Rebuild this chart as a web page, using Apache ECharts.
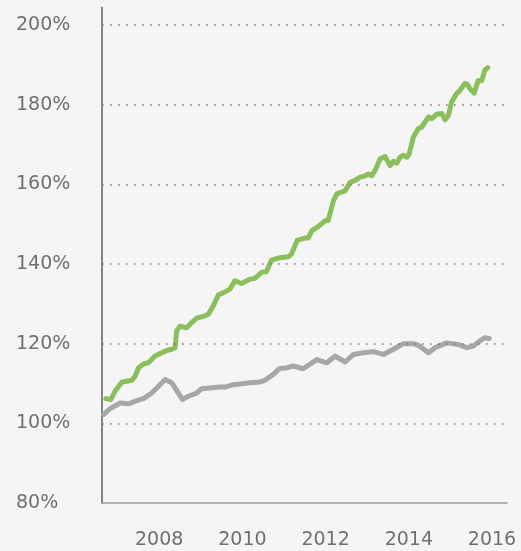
<!DOCTYPE html>
<html>
<head>
<meta charset="utf-8">
<style>
html,body{margin:0;padding:0;background:#f5f5f5;}
#chart{width:521px;height:551px;}
</style>
<script src="https://cdn.jsdelivr.net/npm/echarts@6/dist/echarts.min.js"></script>
</head>
<body>
<div id="chart"></div>
<script>
// Time in decimal years, values in percent
const greenTimes = [2006.72,2006.84,2006.94,2007.10,2007.34,2007.42,2007.50,2007.62,2007.74,2007.90,2008.06,2008.18,2008.30,2008.38,2008.42,2008.50,2008.66,2008.78,2008.90,2009.10,2009.18,2009.30,2009.42,2009.58,2009.70,2009.82,2009.98,2010.18,2010.30,2010.46,2010.58,2010.70,2010.86,2011.10,2011.18,2011.32,2011.50,2011.58,2011.67,2011.82,2011.99,2012.06,2012.19,2012.27,2012.47,2012.51,2012.59,2012.71,2012.83,2012.91,2013.03,2013.11,2013.19,2013.31,2013.43,2013.55,2013.63,2013.71,2013.79,2013.87,2013.96,2014.01,2014.11,2014.23,2014.31,2014.47,2014.55,2014.67,2014.79,2014.87,2014.95,2015.03,2015.15,2015.23,2015.35,2015.41,2015.47,2015.57,2015.67,2015.75,2015.83,2015.90];
const greenValues = [106.2,106.0,108.1,110.3,110.8,111.8,113.9,114.9,115.2,116.9,117.7,118.3,118.6,119.0,123.2,124.4,124.0,125.3,126.4,127.0,127.4,129.5,132.2,133.0,133.7,135.8,135.1,136.2,136.4,137.9,138.1,141.0,141.5,141.8,142.5,146.0,146.5,146.5,148.4,149.4,150.9,150.9,155.9,157.6,158.4,158.0,160.5,161.0,161.8,162.0,162.6,162.2,163.5,166.4,167.0,164.7,165.8,165.3,166.8,167.3,166.8,167.7,171.9,174.0,174.4,176.9,176.5,177.6,177.8,176.2,177.3,180.7,182.8,183.6,185.3,185.1,184.0,182.9,186.1,186.0,188.7,189.3];
const grayTimes = [2006.66,2006.82,2007.06,2007.26,2007.46,2007.62,2007.82,2008.02,2008.14,2008.30,2008.46,2008.56,2008.70,2008.90,2009.02,2009.22,2009.46,2009.58,2009.78,2009.94,2010.18,2010.42,2010.54,2010.74,2010.90,2011.06,2011.22,2011.46,2011.79,2012.03,2012.23,2012.47,2012.67,2012.91,2013.15,2013.39,2013.63,2013.87,2014.11,2014.23,2014.47,2014.63,2014.91,2015.19,2015.39,2015.55,2015.71,2015.83,2015.93];
const grayValues = [102.2,103.7,105.1,104.9,105.7,106.2,107.6,109.7,111.0,110.2,107.6,106.0,106.8,107.6,108.7,108.9,109.1,109.1,109.7,109.9,110.2,110.4,110.8,112.3,113.8,113.9,114.4,113.7,116.0,115.2,116.9,115.4,117.3,117.7,118.0,117.3,118.6,120.0,120.0,119.6,117.7,119.0,120.2,119.8,119.0,119.4,120.7,121.5,121.3];
const yTicks = [80,100,120,140,160,180,200];
const yGridValues = [100,120,140,160,180,200];
const xTicks = [2008,2010,2012,2014,2016];

const zip = (a,b) => a.map((t,i)=>[t,b[i]]);

const chart = echarts.init(document.getElementById('chart'), null, {renderer:'canvas'});
const font = 'DejaVu Sans';
chart.setOption({
  backgroundColor:'#f5f5f5',
  animation:false,
  grid:{left:102,right:14,top:7.5,bottom:48,containLabel:false},
  xAxis:{
    type:'value',min:2006.625,max:2016.36,
    axisLine:{show:true,lineStyle:{color:'#9a9a9a',width:1.5}},
    axisTick:{show:false},
    splitLine:{show:false},
    axisLabel:{customValues:xTicks,color:'#707070',fontFamily:font,fontSize:19,margin:28,formatter:v=>String(v)}
  },
  yAxis:{
    type:'value',min:80,max:204.4,interval:20,
    axisLine:{show:true,lineStyle:{color:'#5e5e5e',width:1.5}},
    axisTick:{show:false},
    splitLine:{show:false},
    axisLabel:{customValues:yTicks,color:'#707070',fontFamily:font,fontSize:19,align:'left',margin:86,
      padding:[0,0,6,0],formatter:v=>v+'%'}
  },
  series:[
    {type:'line',data:zip(grayTimes,grayValues),showSymbol:false,symbol:'none',
      lineStyle:{color:'#a7a7aa',width:5,cap:'round',join:'round'},z:3,
      markLine:{silent:true,symbol:['none','none'],label:{show:false},
        lineStyle:{color:'#7a7a7a',width:1.6,type:[1.6,6.4]},
        data:yGridValues.map(v=>({yAxis:v}))}},
    {type:'line',data:zip(greenTimes,greenValues),showSymbol:false,symbol:'none',
      lineStyle:{color:'#8abf5b',width:5,cap:'round',join:'round'},z:4}
  ]
});
</script>
</body>
</html>
